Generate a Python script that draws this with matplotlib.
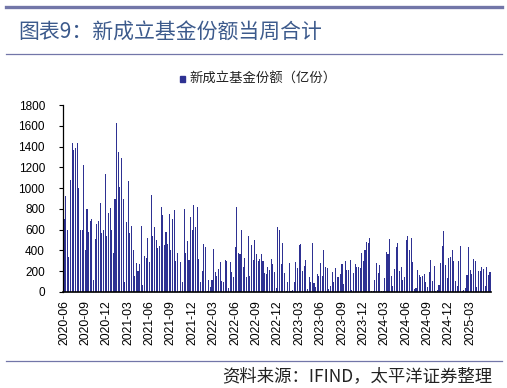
import matplotlib
matplotlib.use("Agg")
import matplotlib.pyplot as plt
from matplotlib.lines import Line2D
from matplotlib.patches import Rectangle

plt.rcParams['font.family'] = ['Liberation Sans', 'Noto Sans CJK SC', 'DejaVu Sans']

# weekly new fund shares (100 million units), from 2020-06 onwards
weekly_shares = [
    700, 920, 600, 340, 1080, 1430, 1370, 1390, 1430, 1000,
    600, 600, 1220, 400, 800, 580, 680, 700, 120, 510,
    650, 680, 860, 570, 600, 1140, 540, 760, 810, 600,
    380, 900, 1630, 1350, 1010, 1290, 900, 100, 670, 1070,
    570, 640, 400, 150, 280, 200, 270, 640, 70, 350,
    330, 520, 290, 930, 540, 630, 500, 420, 440, 820,
    740, 450, 580, 460, 750, 400, 700, 790, 300, 380,
    10, 290, 100, 800, 380, 490, 310, 720, 600, 840,
    630, 820, 320, 100, 200, 460, 430, 10, 120, 50,
    120, 410, 190, 150, 220, 290, 110, 100, 310, 300,
    40, 290, 190, 140, 430, 820, 380, 370, 600, 240,
    330, 140, 540, 150, 450, 310, 500, 370, 300, 320,
    370, 300, 180, 170, 240, 210, 320, 270, 190, 40, 630,
    600, 270, 475, 180, 10, 100, 280, 10, 20, 100, 290,
    230, 450, 460, 200, 250, 310, 30, 140, 100, 475,
    90, 50, 170, 150, 280, 150, 400, 240, 230, 30, 60,
    190, 100, 230, 140, 140, 170, 270, 80, 300, 215,
    215, 310, 15, 180, 270, 240, 240, 230, 380, 300,
    405, 485, 475, 520, 10, 10, 120, 280, 180, 260,
    10, 10, 130, 385, 365, 510, 150, 60, 220, 430, 475,
    200, 240, 120, 140, 500, 540, 400, 520, 290, 25,
    35, 210, 160, 140, 150, 170, 100, 50, 190, 310,
    110, 250, 10, 15, 70, 280, 440, 590, 260, 130,
    330, 340, 405, 300, 110, 60, 300, 440, 10, 15, 35,
    160, 430, 210, 170, 320, 300, 50, 200, 200, 240,
    220, 60, 240, 160, 190,
]

tick_labels = [
    "2020-06", "2020-09", "2020-12", "2021-03", "2021-06", "2021-09",
    "2021-12", "2022-03", "2022-06", "2022-09", "2022-12", "2023-03",
    "2023-06", "2023-09", "2023-12", "2024-03", "2024-06", "2024-09",
    "2024-12", "2025-03",
]
weeks_per_tick = 13

bar_color = '#2E3192'
frame_color = '#7276A8'
title_color = '#3C5A8C'
cjk = ['Noto Sans CJK SC', 'DejaVu Sans']

W, H = 507, 388
fig = plt.figure(figsize=(W / 100, H / 100), dpi=100)

ax = fig.add_axes([63 / W, 1 - 292 / H, (491 - 63) / W, (292 - 105) / H])
x = list(range(len(weekly_shares)))
ax.bar(x, weekly_shares, width=0.65, color=bar_color, linewidth=0)

ax.set_xlim(-0.6, len(weekly_shares) - 0.4)
ax.set_ylim(0, 1800)
ax.set_yticks(range(0, 1801, 200))
ax.tick_params(axis='y', direction='out', length=3, width=0.8, pad=10,
               labelsize=8.5, colors='black')
ax.set_xticks([i * weeks_per_tick for i in range(len(tick_labels))])
ax.set_xticklabels(tick_labels, rotation=90, fontsize=8.8)
ax.tick_params(axis='x', length=0, pad=6)
for s in ['top', 'right']:
    ax.spines[s].set_visible(False)
ax.spines['left'].set_linewidth(0.9)
ax.spines['bottom'].set_linewidth(1.2)

# frame lines around header and footer
fig.add_artist(Line2D([6 / W, 502 / W], [1 - 7 / H, 1 - 7 / H], color=frame_color, lw=2.4))
fig.add_artist(Line2D([6 / W, 502 / W], [1 - 54 / H, 1 - 54 / H], color=frame_color, lw=0.9))
fig.add_artist(Line2D([6 / W, 502 / W], [1 - 361 / H, 1 - 361 / H], color=frame_color, lw=0.9))

fig.text(18 / W, 1 - 32 / H, "图表9：新成立基金份额当周合计", fontsize=15,
         color=title_color, va='center', ha='left', family=cjk)

# legend
fig.add_artist(Rectangle((180 / W, 1 - 82 / H), 5 / W, 6 / H, color=bar_color,
                         transform=fig.transFigure))
fig.text(189 / W, 1 - 78.5 / H, "新成立基金份额（亿份）", fontsize=9.6,
         color='#222222', va='center', ha='left', family=cjk)

fig.text(492 / W, 1 - 376 / H, "资料来源：IFIND，太平洋证券整理", fontsize=12.5,
         color='#222222', va='center', ha='right', style='italic', family=cjk)

fig.savefig("out.png", dpi=100)
